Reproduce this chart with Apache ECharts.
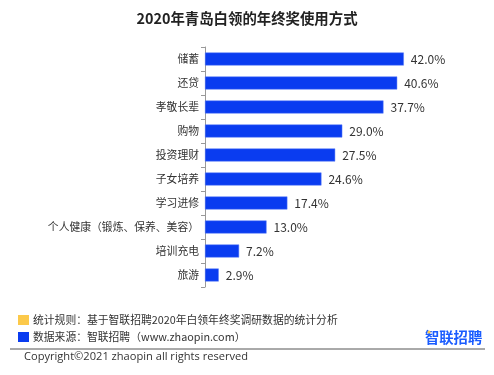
<!DOCTYPE html>
<html><head><meta charset="utf-8">
<script src="https://cdn.jsdelivr.net/npm/echarts@6/dist/echarts.min.js"></script>
<style>html,body{margin:0;padding:0;background:#fff}#c{width:494px;height:375px}</style>
</head><body><div id="c"></div>
<script>
const categories = ['储蓄','还贷','孝敬长辈','购物','投资理财','子女培养','学习进修','个人健康（锻炼、保养、美容）','培训充电','旅游'];
const values = [42.0, 40.6, 37.7, 29.0, 27.5, 24.6, 17.4, 13.0, 7.2, 2.9];
const titleText = '2020年青岛白领的年终奖使用方式';
const noteRule = '统计规则：基于智联招聘2020年白领年终奖调研数据的统计分析';
const noteSource = '数据来源：智联招聘（www.zhaopin.com）';
const copyright = 'Copyright©2021 zhaopin all rights reserved';
const FONT = '"Noto Sans CJK SC","Microsoft YaHei",sans-serif';

const chart = echarts.init(document.getElementById('c'), null, {renderer:'canvas'});
chart.setOption({
  animation:false,
  backgroundColor:'#fff',
  title:{text:titleText,left:'center',top:6,textStyle:{fontFamily:FONT,fontSize:14.4,fontWeight:'bold',color:'#222'}},
  grid:{left:205,top:47,width:236.7,height:240,containLabel:false},
  xAxis:{type:'value',min:0,max:50,show:false},
  yAxis:{type:'category',data:categories,inverse:true,
    axisLine:{show:true,lineStyle:{color:'#999',width:1}},
    axisTick:{show:true,inside:false,length:4,lineStyle:{color:'#999'}},
    axisLabel:{fontFamily:FONT,fontSize:10.8,color:'#333',margin:6},
    splitLine:{show:false}},
  series:[{type:'bar',data:values,barWidth:13,
    itemStyle:{color:'#0a3cf0',borderColor:'#5a7cf8',borderWidth:0.5},
    label:{show:true,position:'right',distance:7,fontFamily:FONT,fontSize:12,color:'#333',
      formatter:p=>p.value.toFixed(1)+'%'}}],
  graphic:[
    {type:'rect',shape:{x:18,y:315,width:11,height:10},style:{fill:'#fcc94a'}},
    {type:'text',x:33,y:320,style:{text:noteRule,fontFamily:FONT,fontSize:10.8,fill:'#333',textVerticalAlign:'middle'}},
    {type:'rect',shape:{x:18,y:332,width:11,height:10},style:{fill:'#0a3cf0'}},
    {type:'text',x:33,y:337,style:{text:noteSource,fontFamily:FONT,fontSize:10.8,fill:'#333',textVerticalAlign:'middle'}},
    {type:'text',x:425,y:338,style:{text:'智联招聘',fontFamily:FONT,fontSize:14.3,fontWeight:'bold',fill:'#1a5cff',textVerticalAlign:'middle'}},
    {type:'circle',shape:{cx:429,cy:332,r:1.6},style:{fill:'#fcc94a'}},
    {type:'line',shape:{x1:10,y1:349,x2:485,y2:349},style:{stroke:'#555',lineWidth:1}},
    {type:'text',x:24,y:357,style:{text:copyright,fontFamily:'"Open Sans","Noto Sans",sans-serif',fontSize:11.1,fill:'#333',textVerticalAlign:'middle'}}
  ]
});
</script></body></html>
